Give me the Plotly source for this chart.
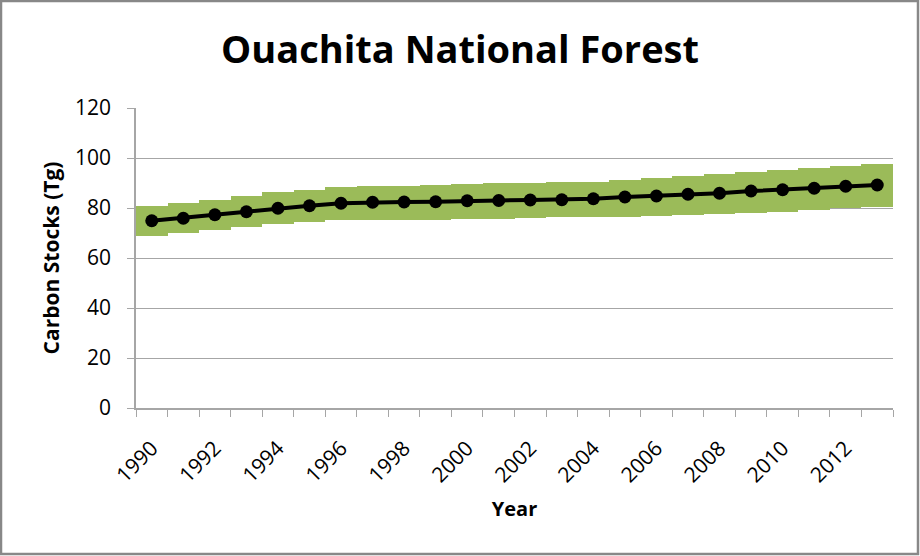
import plotly.graph_objects as go

# Ouachita National Forest carbon stocks (Tg)
years = list(range(1990, 2014))
carbon = [74.9, 75.9, 77.3, 78.5, 79.9, 80.9, 81.9, 82.3, 82.4, 82.5, 82.9, 83.0,
          83.2, 83.3, 83.7, 84.4, 84.8, 85.5, 85.9, 86.8, 87.3, 87.9, 88.7, 89.2]
lower = [68.7, 69.9, 71.2, 72.4, 73.6, 74.5, 75.3, 75.4, 75.3, 75.4, 75.5, 75.8,
         76.0, 76.3, 76.5, 76.6, 76.8, 77.2, 77.6, 78.1, 78.5, 79.2, 79.9, 80.5]
upper = [80.8, 81.9, 83.2, 84.8, 86.3, 87.4, 88.6, 88.8, 89.0, 89.2, 89.6, 90.0,
         90.1, 90.3, 90.6, 91.2, 91.9, 92.8, 93.6, 94.4, 95.2, 95.9, 96.8, 97.6]
tick_years = years[::2]

FONT = "Open Sans"
GRID = "#a6a6a6"

fig = go.Figure()

# uncertainty band: full-width columns from lower to upper
fig.add_trace(go.Bar(
    x=years,
    y=[u - l for u, l in zip(upper, lower)],
    base=lower,
    width=1,
    marker=dict(color="#9bbb59", line=dict(width=0)),
    hoverinfo="skip",
    showlegend=False,
))

fig.add_trace(go.Scatter(
    x=years,
    y=carbon,
    mode="lines+markers",
    line=dict(color="black", width=4),
    marker=dict(color="black", size=13),
    showlegend=False,
))

fig.update_layout(
    width=920,
    height=556,
    paper_bgcolor="white",
    plot_bgcolor="white",
    bargap=0,
    margin=dict(l=136, r=27, t=108, b=148),
    font=dict(family=FONT, color="black"),
    title=dict(
        text="<b>Ouachita National Forest</b>",
        x=0.5, xref="container", xanchor="center",
        y=1 - 50 / 556, yref="container", yanchor="middle",
        font=dict(size=38, family=FONT, color="black"),
    ),
    xaxis=dict(
        range=[1989.5, 2013.5],
        tickvals=tick_years,
        ticktext=[str(y) for y in tick_years],
        tickangle=-45,
        ticks="",
        tickfont=dict(size=21),
        ticklabelstandoff=18,
        showgrid=False,
        showline=True,
        linecolor=GRID,
        linewidth=1.5,
        zeroline=False,
        minor=dict(ticks="outside", ticklen=7, tickcolor=GRID, tick0=1989.5, dtick=1, showgrid=False),
        title=dict(text="<b>Year</b>", font=dict(size=20), standoff=15),
    ),
    yaxis=dict(
        range=[0, 120],
        dtick=20,
        ticks="outside",
        ticklen=7,
        tickcolor=GRID,
        tickfont=dict(size=21),
        ticklabelstandoff=12,
        showgrid=True,
        gridcolor=GRID,
        gridwidth=1,
        showline=True,
        linecolor=GRID,
        linewidth=1.5,
        zeroline=False,
        title=dict(text="<b>Carbon Stocks (Tg)</b>", font=dict(size=21), standoff=10),
    ),
    shapes=[dict(
        type="rect", xref="paper", yref="paper",
        x0=-135 / 757, x1=1 + 25 / 757, y0=-146 / 300, y1=1 + 107 / 300,
        line=dict(color="#888888", width=2.5),
    )],
)

fig.write_html("out.html", config={"displayModeBar": False},
               post_script="document.body.style.margin='0';")
